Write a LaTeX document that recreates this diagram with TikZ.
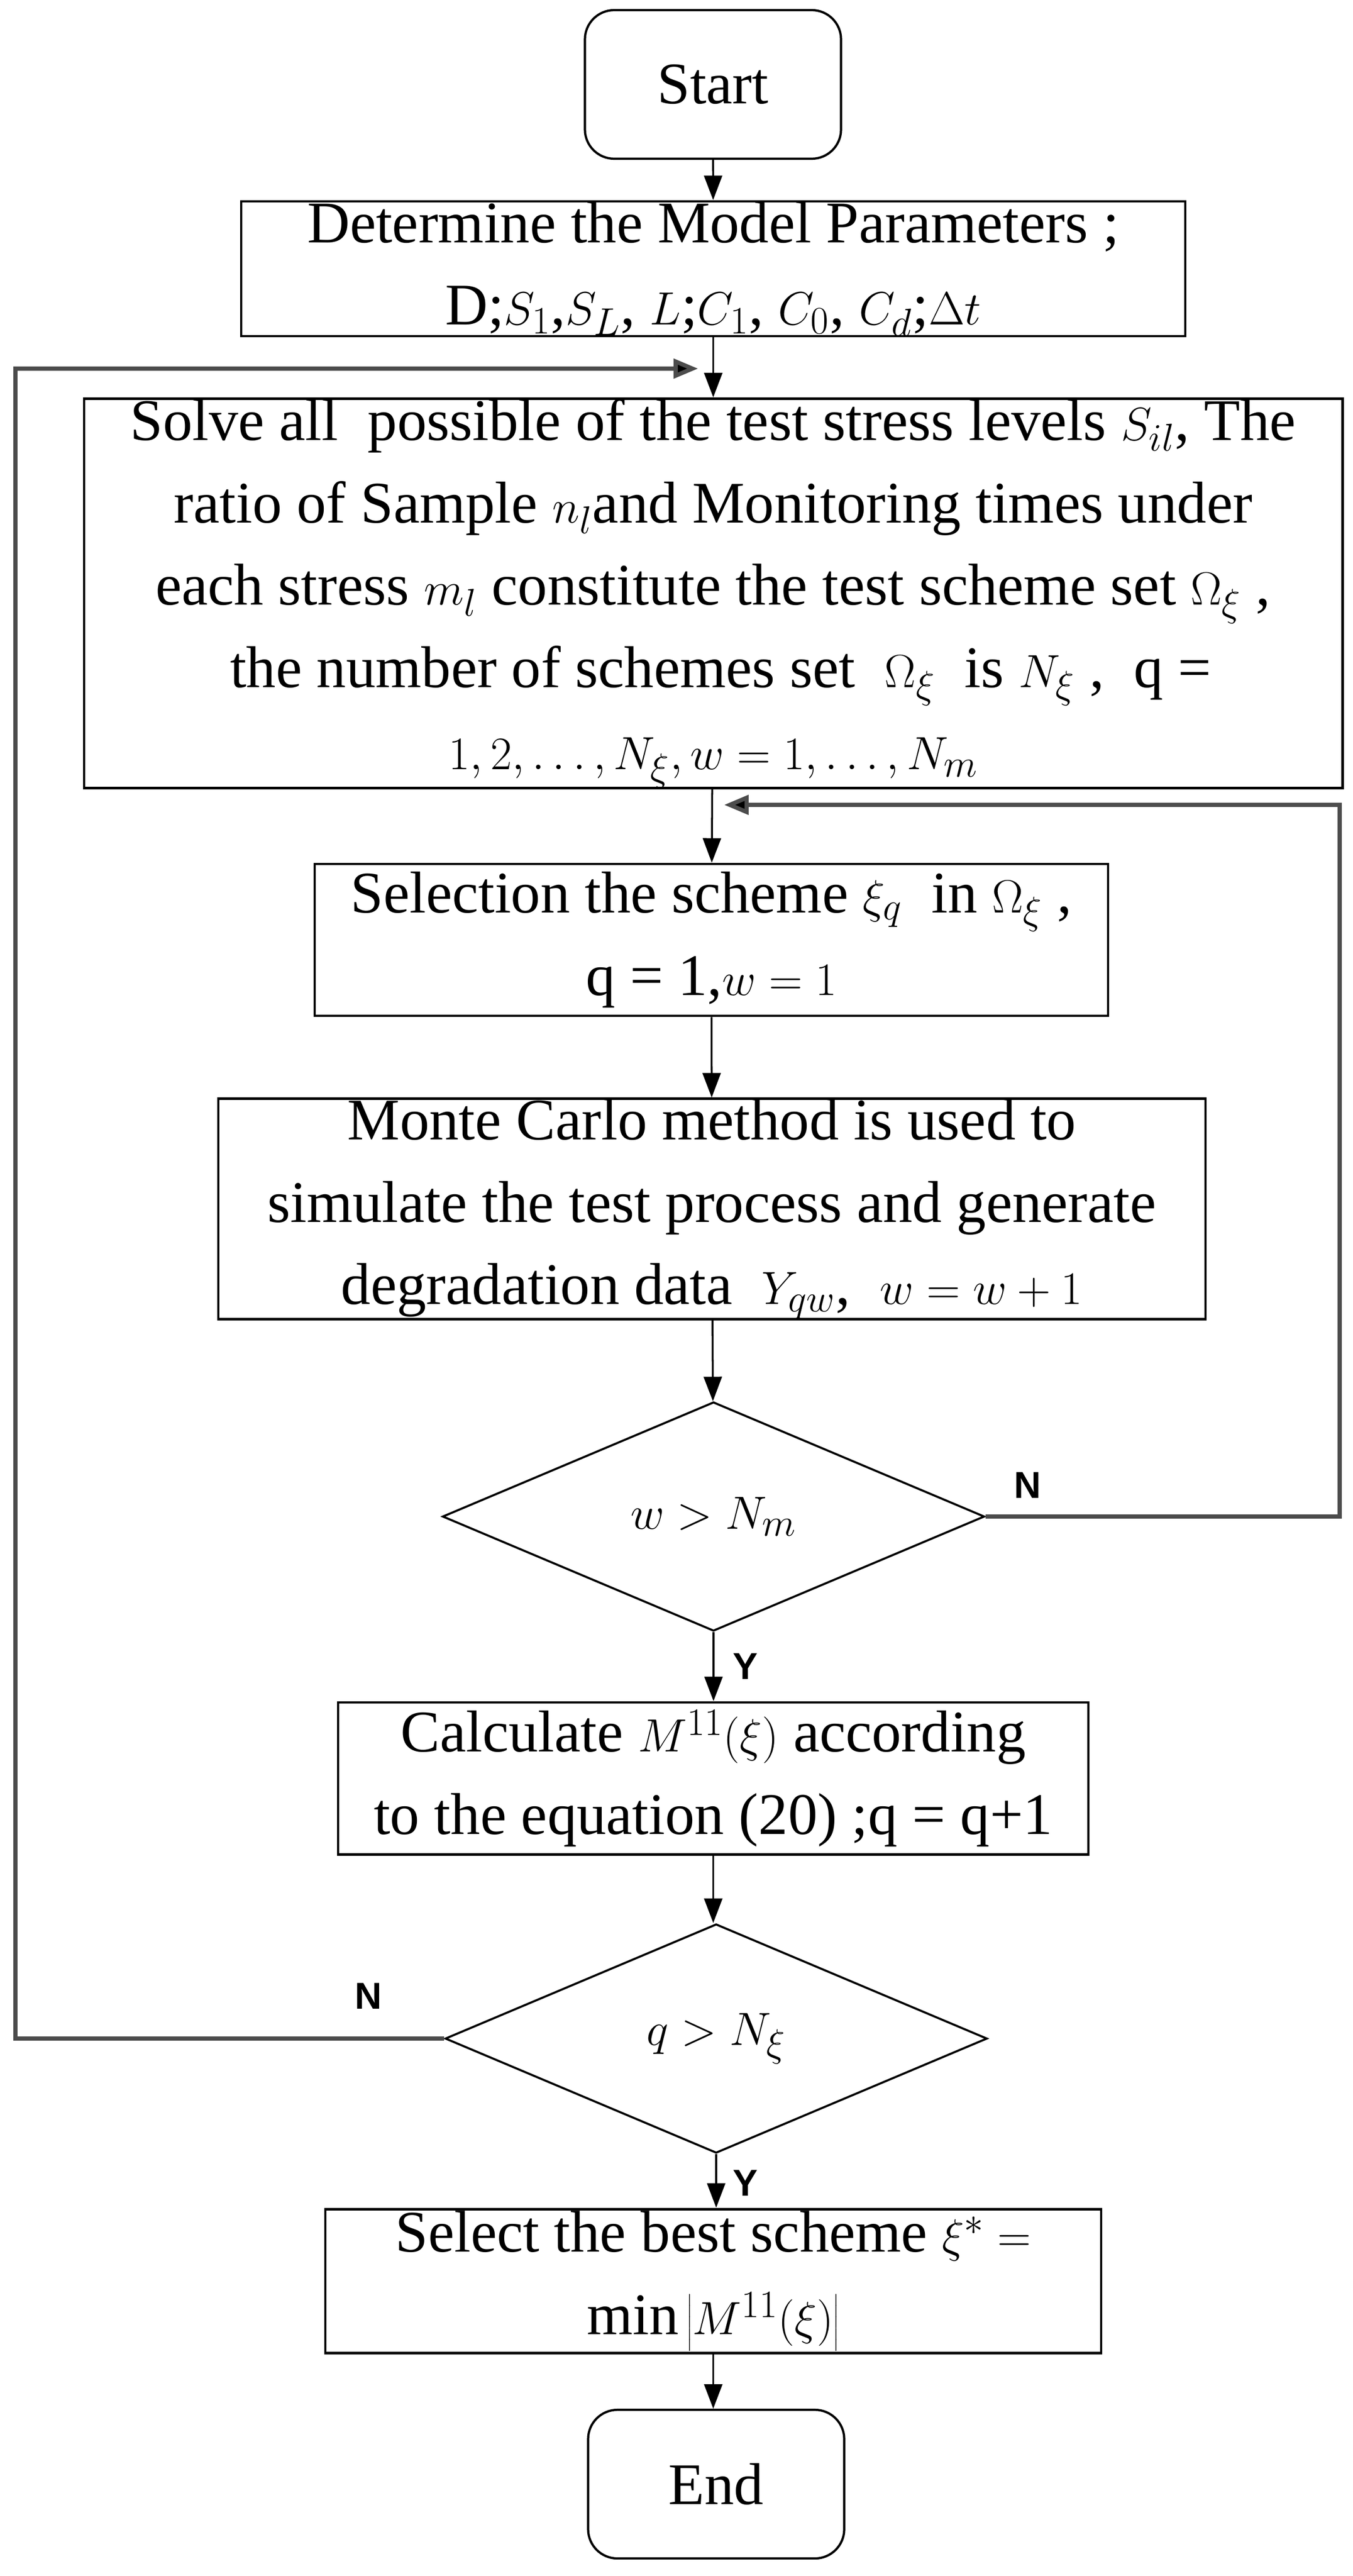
\documentclass[tikz,border=0pt]{standalone}
\usepackage{fontspec}
\setmainfont{Liberation Serif}
\newfontfamily\ynfont{Liberation Sans}
\usetikzlibrary{shapes.geometric,arrows.meta}

\begin{document}
\begin{tikzpicture}
        \tikzset{every node/.style={font=\fontsize{31.5}{44}\selectfont, align=center},
            terminal/.style={draw, rounded corners=0.55cm, line width=1.2pt,
                minimum width=4.81cm, minimum height=2.79cm},
            process/.style={draw, line width=1.4pt, inner sep=0pt},
            decision/.style={draw, diamond, line width=1.1pt, inner sep=0pt,
                minimum width=10.18cm, minimum height=4.3cm},
            flow/.style={line width=1pt, -{Triangle[length=4.6mm,width=3.4mm]}},
            loopback/.style={line width=2.2pt, draw=black!70,
                -{Triangle[length=4.6mm,width=3.6mm,fill=black]}},
            yn/.style={font=\ynfont\bfseries\fontsize{20}{24}\selectfont}}
        \useasboundingbox (0,0) rectangle (25.41,-48.36);
        % main column
        \node[terminal] (start) at (13.39,-1.585) {Start};
        \node[process, minimum width=17.73cm, minimum height=2.53cm] (param) at (13.395,-5.045)
            {Determine the Model Parameters ;\\ D;$S_1$,$S_L$, $L$;$C_1$, $C_0$, $C_d$;$\Delta t$};
        \node[process, minimum width=23.63cm, minimum height=6.7cm] (solve) at (13.395,-11.14)
            {Solve all \ possible of the test stress levels $S_{il}$, The\\
             ratio of Sample $n_l$and Monitoring times under\\
             each stress $m_l$ constitute the test scheme set $\Omega_\xi$ ,\\
             \ the number of schemes set \ $\Omega_\xi$ \ is $N_\xi$ , \ q =\\
             $1,2,\ldots,N_\xi, w=1,\ldots,N_m$};
        \node[process, minimum width=14.9cm, minimum height=2.85cm] (select) at (13.36,-17.645)
            {Selection the scheme $\xi_q$ \ in $\Omega_\xi$ ,\\ q = 1,$w=1$};
        \node[process, minimum width=18.54cm, minimum height=3.97cm] (monte) at (13.37,-22.695)
            {Monte Carlo method is used to\\ simulate the test process and generate\\
             degradation data \ $Y_{qw}$, \ $w=w+1$};
        \node[decision] (wcheck) at (13.4,-28.47) {$w > N_m$};
        \node[process, minimum width=14.09cm, minimum height=2.85cm] (calc) at (13.395,-33.385)
            {Calculate $M^{11}(\xi)$ according\\ to the equation (20) ;q = q+1};
        \node[decision] (qcheck) at (13.45,-38.27) {$q > N_\xi$};
        \node[process, minimum width=14.57cm, minimum height=2.7cm] (best) at (13.395,-42.82)
            {Select the best scheme $\xi^* =$\\ $\min\left|M^{11}(\xi)\right|$};
        \node[terminal] (end) at (13.45,-46.635) {End};
        % labels
        \node[yn] (ylab1) at (14.0,-31.28) {Y};
        \node[yn] (ylab2) at (14.0,-40.98) {Y};
        \node[yn] (nlab1) at (19.3,-27.88) {N};
        \node[yn] (nlab2) at (6.92,-37.47) {N};
        % loop ends
        \coordinate (outer) at (0.29,-6.92);
        \coordinate (outin) at (13.11,-6.92);
        \coordinate (inner) at (25.16,-15.11);
        \coordinate (innin) at (13.6,-15.11);
        % arrows
        \draw[flow] (start) -- (param);
        \draw[flow] (param) -- (solve);
        \draw[flow] (solve) -- (select);
        \draw[flow] (select) -- (monte);
        \draw[flow] (monte) -- (wcheck);
        \draw[flow] (wcheck) -- (wcheck|-calc.north);
        \draw[flow] (calc) -- (calc|-qcheck.north);
        \draw[flow] (qcheck) -- (qcheck|-best.north);
        \draw[flow] (best) -- (best|-end.north);
        \draw[loopback] (wcheck.east) -- (wcheck.east-|inner) -- (inner) -- (innin);
        \draw[loopback] (qcheck.west) -- (qcheck.west-|outer) -- (outer) -- (outin);
\end{tikzpicture}
\end{document}
